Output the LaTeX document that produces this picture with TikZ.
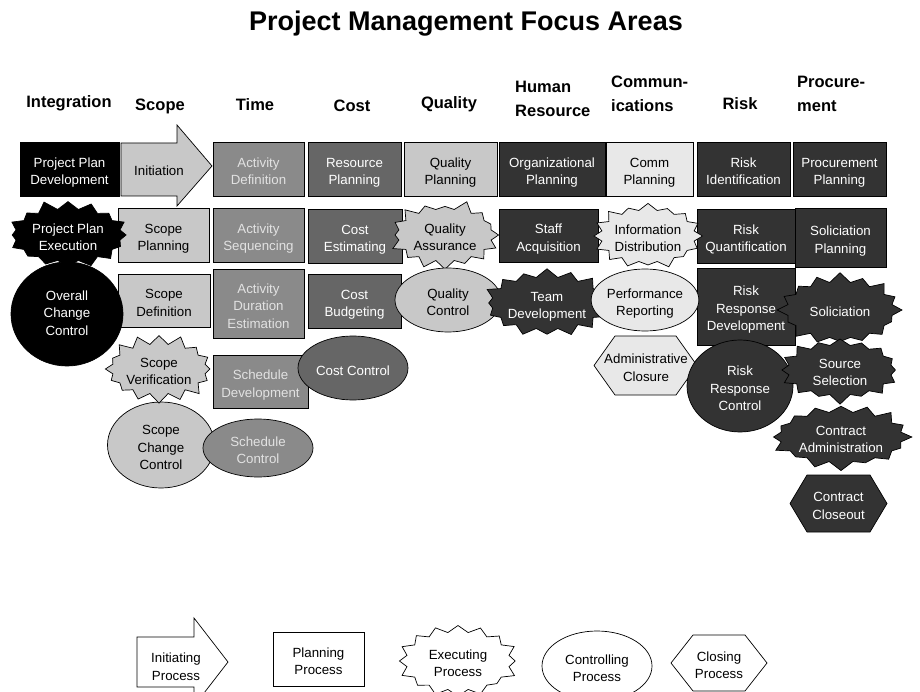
\documentclass[tikz,border=0pt]{standalone}
\usepackage{fontspec}
\setmainfont{Liberation Sans}
\usetikzlibrary{shapes.symbols,shapes.geometric}
\definecolor{cBlack}{HTML}{000000}
\definecolor{cLight}{HTML}{C8C8C8}
\definecolor{cMid}{HTML}{8A8A8A}
\definecolor{cMidTxt}{HTML}{E2E2E2}
\definecolor{cDarkish}{HTML}{666666}
\definecolor{cDark}{HTML}{333333}
\definecolor{cPale}{HTML}{E8E8E8}
\newcommand{\lowtxt}[1]{\raisebox{-3.5pt}[\height][\depth]{\begin{tabular}{@{}c@{}}#1\end{tabular}}}
\newcommand{\midtxt}[1]{\begin{tabular}{@{}c@{}}#1\end{tabular}}
\begin{document}
\begin{tikzpicture}[x=1pt,y=-1pt,
  shp/.style={draw=black, line width=0.7pt, inner sep=0pt,
    font=\fontsize{13.3}{17.5}\selectfont},
  fBlack/.style={fill=cBlack, text=white},
  fLight/.style={fill=cLight, text=black},
  fMid/.style={fill=cMid, text=cMidTxt},
  fDarkish/.style={fill=cDarkish, text=white},
  fDark/.style={fill=cDark, text=white},
  fPale/.style={fill=cPale, text=black},
  fWhite/.style={fill=white, text=black},
  rbox/.style n args={2}{shp, rectangle, minimum width=#1pt, minimum height=#2pt},
  oval/.style n args={2}{shp, ellipse, minimum width=#1pt, minimum height=#2pt},
  burst/.style n args={2}{shp, starburst, starburst points=16, starburst point height=10pt,
    minimum width=#1pt, minimum height=#2pt},
  txt/.style={inner sep=0pt, font=\fontsize{13.3}{17.5}\selectfont},
  outl/.style={draw=black, line width=0.7pt},
  head/.style={font=\fontsize{16.5}{22}\selectfont\bfseries, inner sep=0pt},
  headl/.style={font=\fontsize{16.5}{23.5}\selectfont\bfseries, inner sep=0pt, align=left, anchor=north west}
]
\useasboundingbox (0,0) rectangle (920,692);
\clip (0,0) rectangle (920,692);

% title
\node[font=\fontsize{27}{32}\selectfont\bfseries, inner sep=0pt] (title) at (466,24) {Project Management Focus Areas};

% headers
\node[head] (hInt) at (69,103) {Integration};
\node[head] (hScope) at (160,106) {Scope};
\node[head] (hTime) at (255,105) {Time};
\node[head] (hCost) at (352,106) {Cost};
\node[head] (hQual) at (449,104) {Quality};
\node[headl] (hHR) at (515,81) {Human\\Resource};
\node[headl] (hComm) at (611,76) {Commun-\\ications};
\node[head] (hRisk) at (740,104) {Risk};
\node[headl] (hProc) at (797,76) {Procure-\\ment};

% row 1
\node[rbox={99}{54}, fBlack] (ppd) at (69.5,169) {\lowtxt{Project Plan\\Development}};
\filldraw[outl, fill=cLight] (121,143) -- (177,143) -- (177,125) -- (212,166) -- (177,206) -- (177,196) -- (121,196) -- cycle;
\node[txt] (init) at (159,171) {Initiation};
\node[rbox={91}{54}, fMid] (actdef) at (258.5,169) {\lowtxt{Activity\\Definition}};
\node[rbox={93}{54}, fDarkish] (resplan) at (354.5,169) {\lowtxt{Resource\\Planning}};
\node[rbox={93}{54}, fLight] (qualplan) at (450.5,169) {\lowtxt{Quality\\Planning}};
\node[rbox={106}{54}, fDark] (orgplan) at (552,169) {\lowtxt{Organizational\\Planning}};
\node[rbox={87}{54}, fPale] (commplan) at (649.5,169) {\lowtxt{Comm\\Planning}};
\node[rbox={93}{54}, fDark] (riskid) at (743.5,169) {\lowtxt{Risk\\Identification}};
\node[rbox={93}{54}, fDark] (procplan) at (839.5,169) {\lowtxt{Procurement\\Planning}};

% row 2 boxes
\node[rbox={91}{54}, fLight] (scopeplan) at (163.5,235) {\lowtxt{Scope\\Planning}};
\node[rbox={91}{54}, fMid] (actseq) at (258.5,235) {\lowtxt{Activity\\Sequencing}};
\node[rbox={94}{54}, fDarkish] (costest) at (355,236) {\lowtxt{Cost\\Estimating}};
\node[rbox={99}{53}, fDark] (staffacq) at (548.5,235.5) {\lowtxt{Staff\\Acquisition}};
\node[rbox={98}{54}, fDark] (riskquant) at (746,236) {\lowtxt{Risk\\Quantification}};
\node[rbox={91}{59}, fDark] (solplan) at (840.5,237.5) {\lowtxt{Soliciation\\Planning}};

% row 3 boxes
\node[rbox={92}{53}, fLight] (scopedef) at (164,300.5) {\lowtxt{Scope\\Definition}};
\node[rbox={91}{69}, fMid] (actdur) at (258.5,303.5) {\lowtxt{Activity\\Duration\\Estimation}};
\node[rbox={93}{54}, fDarkish] (costbud) at (354.5,301) {\lowtxt{Cost\\Budgeting}};
\node[rbox={98}{77}, fDark] (rrd) at (746,306.5) {\lowtxt{Risk\\Response\\Development}};

% row 4 boxes
\node[rbox={95}{53}, fMid] (scheddev) at (260.5,381.5) {\lowtxt{Schedule\\Development}};

% executing (bursts), controlling (ovals), closing (hexagons)
\node[oval={112}{104}, fBlack] (occ) at (67,314) {\midtxt{Overall\\Change\\Control}};
\node[burst={126}{72}, fBlack, random starburst=11] (ppe) at (68,235) {\lowtxt{Project Plan\\Execution}};
\node[burst={114}{72}, fLight, random starburst=23] (qa) at (445,235) {\lowtxt{Quality\\Assurance}};
\node[oval={106}{64}, fLight] (qc) at (448,300) {\lowtxt{Quality\\Control}};
\node[burst={112}{72}, fDark, random starburst=37] (teamdev) at (547,303) {\lowtxt{Team\\Development}};
\node[burst={106}{72}, fPale, random starburst=41] (infodist) at (648,236) {\lowtxt{Information\\Distribution}};
\node[oval={106}{62}, fPale] (perfrep) at (645,300) {\lowtxt{Performance\\Reporting}};
\filldraw[outl, fill=cPale] (594,365.5) -- (615,336) -- (676,336) -- (697,365.5) -- (676,395) -- (615,395) -- cycle;
\node[txt, text=black] (admclos) at (646,365.5) {\lowtxt{Administrative\\Closure}};
\node[oval={106}{92}, fDark] (rrc) at (740,386) {\lowtxt{Risk\\Response\\Control}};
\node[burst={126}{76}, fDark, random starburst=53] (solic) at (840,310) {\lowtxt{Soliciation}};
\node[burst={124}{70}, fDark, random starburst=61] (srcsel) at (840,370) {\lowtxt{Source\\Selection}};
\node[burst={142}{70}, fDark, random starburst=71] (contradm) at (841,437) {\lowtxt{Contract\\Administration}};
\filldraw[outl, fill=cDark] (790,503.5) -- (807,475) -- (870,475) -- (887,503.5) -- (870,532) -- (807,532) -- cycle;
\node[txt, text=white] (contrclose) at (838.5,503.5) {\lowtxt{Contract\\Closeout}};
\node[oval={110}{64}, fDarkish] (costctrl) at (353,368) {\lowtxt{Cost Control}};
\node[oval={107}{86}, fLight] (scc) at (161,445) {\lowtxt{Scope\\Change\\Control}};
\node[burst={114}{70}, fLight, random starburst=83] (scopever) at (159,369) {\lowtxt{Scope\\Verification}};
\node[oval={110}{58}, fMid] (schedctrl) at (258,448) {\lowtxt{Schedule\\Control}};

% legend
\filldraw[outl, fill=white] (137,637) -- (194,637) -- (194,618) -- (228,662) -- (194,706) -- (194,687) -- (137,687) -- cycle;
\node[txt] (lgInit) at (176,668) {\midtxt{Initiating\\Process}};
\node[rbox={91}{54}, fWhite] (lgPlan) at (318.5,659) {\lowtxt{Planning\\Process}};
\node[burst={124}{78}, fWhite, random starburst=97] (lgExec) at (458,661) {\lowtxt{Executing\\Process}};
\node[oval={110}{70}, fWhite] (lgCtrl) at (597,666) {\lowtxt{Controlling\\Process}};
\filldraw[outl, fill=white] (671,663) -- (693,635) -- (745,635) -- (767,663) -- (745,691) -- (693,691) -- cycle;
\node[txt] (lgClose) at (719,663) {\lowtxt{Closing\\Process}};
\end{tikzpicture}
\end{document}
